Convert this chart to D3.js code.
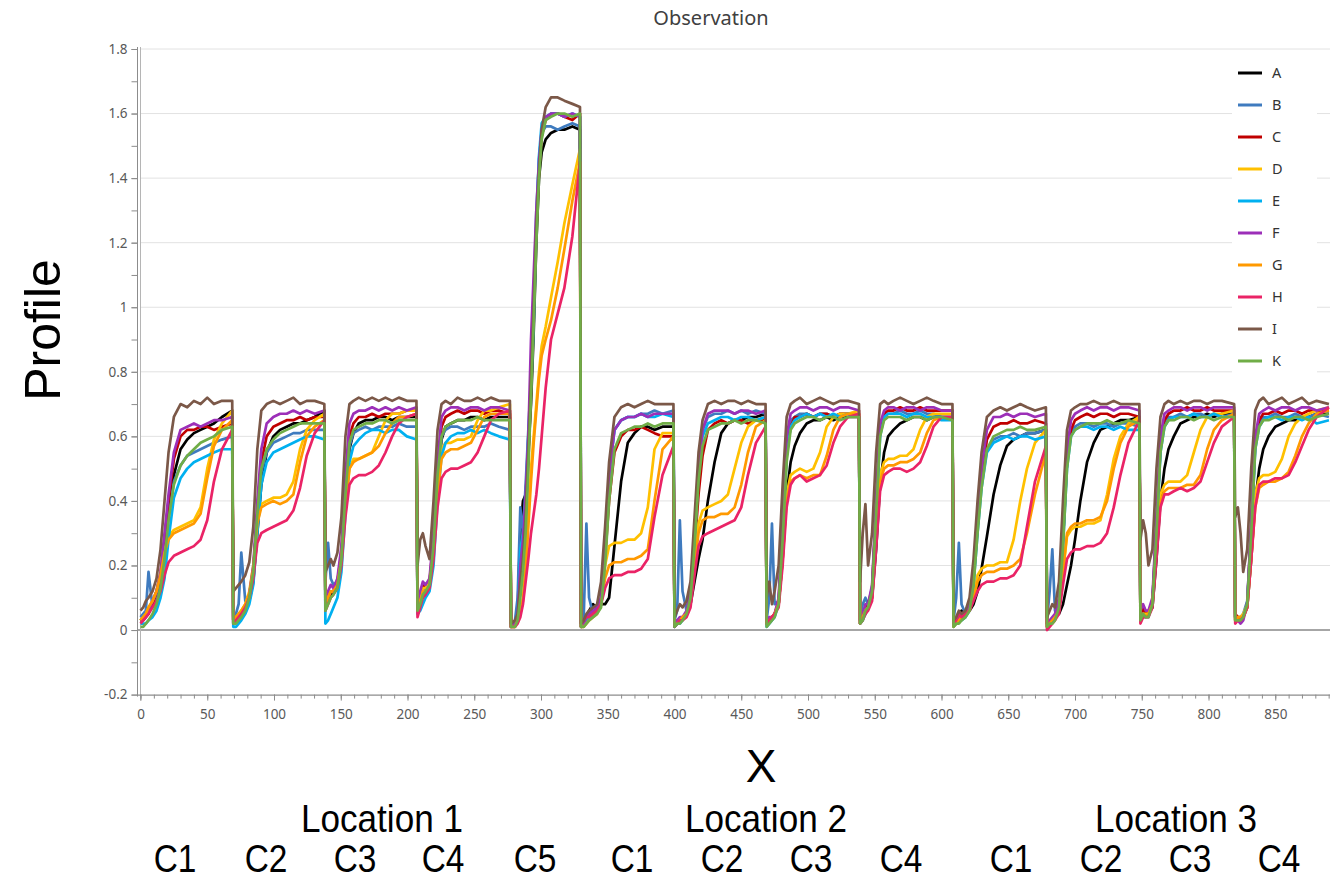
<!DOCTYPE html>
<html>
<head>
<meta charset="utf-8">
<script src="https://cdn.jsdelivr.net/npm/d3@7"></script>
<style>
  body { margin: 0; background: #fff; }
  svg { display: block; }
</style>
</head>
<body>
<svg id="chart" width="1342" height="879"></svg>
<script>
// ---- data ------------------------------------------------------------
// X positions where each cycle starts (last entry = end of the record)
const segmentBounds = [0, 69.5, 138.5, 207.5, 277.5, 330, 400, 469, 539, 609, 679, 749, 820, 891];
// sample positions inside a cycle, measured from its start
const cycleOffsets = [0, 2, 4, 6, 9, 12, 15, 18, 21, 25, 30, 35, 40, 45, 50, 55, 61];
// the short fifth cycle of location 1 is sampled more densely
const c5Offsets = [0, 3, 5, 7, 9, 11, 13, 15, 17, 19, 21, 23, 26, 30, 35, 40, 46];

const seriesNames = ["A", "B", "C", "D", "E", "F", "G", "H", "I", "K"];
const seriesColors = ["#000000", "#3f7bbf", "#c00000", "#ffc000", "#00b0f0",
                      "#9c2fb8", "#ff9900", "#ea2366", "#7b5848", "#70ad47"];

// one row per cycle; the last value of each row sits just before the drop
const seriesA = [
  [.03,.04,.05,.06,.08,.11,.16,.25,.36,.48,.56,.59,.61,.62,.63,.64,.66,.68],
  [.02,.03,.04,.05,.06,.09,.15,.30,.45,.55,.60,.62,.63,.64,.64,.65,.66,.68],
  [.08,.10,.11,.12,.14,.22,.40,.56,.61,.64,.65,.65,.66,.66,.65,.66,.66,.66],
  [.06,.09,.12,.12,.14,.26,.46,.59,.63,.64,.65,.65,.66,.66,.65,.66,.66,.66],
  [.01,.02,.06,.30,.40,.42,.55,.70,.92,1.20,1.40,1.48,1.52,1.54,1.55,1.55,1.56,1.55],
  [.01,.03,.04,.06,.08,.07,.08,.08,.10,.26,.46,.58,.61,.63,.63,.62,.63,.63],
  [.01,.02,.03,.04,.05,.08,.15,.22,.28,.40,.52,.61,.64,.65,.65,.66,.66,.67],
  [.02,.03,.04,.05,.08,.22,.42,.52,.57,.61,.64,.65,.65,.66,.65,.66,.66,.66],
  [.02,.04,.05,.07,.10,.25,.45,.55,.60,.62,.64,.65,.66,.66,.65,.66,.66,.66],
  [.02,.03,.05,.06,.05,.06,.08,.12,.19,.29,.42,.51,.57,.59,.60,.61,.61,.62],
  [.02,.02,.03,.04,.05,.08,.14,.20,.28,.40,.52,.58,.62,.63,.64,.65,.65,.66],
  [.04,.06,.05,.05,.07,.22,.40,.50,.56,.60,.64,.65,.66,.66,.67,.66,.67,.67],
  [.04,.04,.03,.04,.07,.22,.40,.50,.56,.60,.63,.64,.65,.65,.66,.66,.67,.67]
];
const seriesB = [
  [.04,.05,.06,.18,.07,.10,.14,.23,.35,.46,.51,.54,.55,.56,.57,.58,.59,.60],
  [.04,.05,.08,.24,.09,.11,.19,.36,.49,.55,.58,.59,.60,.61,.61,.62,.62,.62],
  [.15,.27,.16,.14,.15,.23,.42,.57,.61,.62,.63,.62,.63,.63,.63,.64,.63,.63],
  [.06,.09,.12,.13,.15,.26,.47,.60,.62,.63,.63,.62,.63,.63,.63,.64,.63,.62],
  [.02,.03,.10,.38,.30,.45,.62,.78,1.02,1.30,1.46,1.54,1.56,1.56,1.55,1.56,1.57,1.56],
  [.02,.04,.33,.10,.05,.06,.10,.26,.48,.62,.65,.66,.66,.67,.67,.68,.67,.68],
  [.03,.06,.34,.12,.06,.12,.30,.50,.62,.66,.67,.67,.68,.67,.68,.67,.68,.67],
  [.03,.10,.33,.08,.09,.30,.56,.65,.66,.67,.67,.66,.67,.67,.66,.67,.67,.66],
  [.03,.08,.10,.08,.12,.38,.62,.66,.67,.67,.68,.67,.67,.68,.67,.67,.66,.66],
  [.03,.10,.27,.08,.05,.07,.15,.32,.46,.56,.59,.60,.60,.61,.60,.61,.61,.62],
  [.03,.12,.25,.06,.08,.28,.52,.61,.63,.64,.64,.63,.64,.64,.63,.64,.64,.63],
  [.04,.06,.05,.05,.09,.32,.56,.64,.66,.66,.67,.66,.67,.67,.66,.67,.66,.67],
  [.04,.04,.04,.05,.09,.32,.57,.64,.66,.66,.67,.66,.66,.67,.66,.66,.67,.66]
];
const seriesC = [
  [.03,.03,.04,.05,.08,.12,.17,.28,.40,.53,.60,.62,.62,.63,.63,.62,.63,.64],
  [.03,.03,.04,.05,.07,.10,.18,.36,.52,.60,.63,.64,.65,.65,.66,.65,.66,.66],
  [.08,.10,.12,.12,.15,.24,.44,.60,.64,.66,.66,.67,.66,.67,.67,.67,.68,.68],
  [.07,.10,.14,.13,.15,.28,.50,.63,.66,.67,.68,.67,.68,.68,.67,.68,.68,.67],
  [.01,.02,.04,.12,.20,.32,.52,.75,.98,1.24,1.42,1.53,1.58,1.60,1.60,1.59,1.58,1.60],
  [.01,.02,.03,.05,.06,.07,.10,.22,.40,.55,.60,.62,.62,.63,.62,.61,.60,.60],
  [.02,.03,.03,.04,.05,.10,.25,.42,.54,.62,.64,.65,.64,.65,.65,.64,.65,.65],
  [.02,.03,.04,.05,.09,.30,.55,.63,.66,.66,.67,.66,.67,.67,.66,.67,.67,.66],
  [.03,.04,.07,.08,.13,.38,.62,.67,.68,.68,.69,.68,.68,.69,.68,.68,.68,.68],
  [.02,.03,.03,.04,.05,.07,.16,.32,.47,.59,.63,.64,.64,.65,.64,.64,.65,.64],
  [.02,.03,.03,.04,.08,.28,.52,.62,.65,.66,.67,.66,.67,.67,.66,.67,.67,.66],
  [.05,.07,.05,.05,.09,.32,.57,.65,.67,.68,.68,.69,.68,.68,.69,.68,.68,.68],
  [.05,.04,.03,.04,.08,.32,.58,.65,.67,.67,.68,.67,.68,.68,.67,.68,.68,.68]
];
const seriesD = [
  [.03,.04,.05,.07,.09,.12,.18,.25,.29,.31,.32,.33,.34,.38,.50,.59,.64,.68],
  [.03,.04,.05,.06,.08,.12,.20,.34,.39,.40,.41,.41,.42,.46,.56,.62,.65,.67],
  [.08,.10,.12,.12,.14,.22,.38,.50,.53,.53,.54,.55,.60,.65,.67,.67,.68,.68],
  [.06,.10,.13,.13,.15,.25,.44,.56,.58,.58,.59,.59,.60,.65,.68,.68,.69,.70],
  [.01,.01,.03,.06,.10,.20,.35,.50,.60,.70,.80,.88,.94,1.03,1.14,1.26,1.38,1.49],
  [.01,.02,.03,.04,.05,.06,.10,.20,.26,.27,.27,.28,.28,.30,.38,.56,.61,.61],
  [.02,.03,.03,.04,.05,.09,.22,.33,.37,.38,.39,.40,.42,.50,.58,.63,.65,.66],
  [.02,.03,.04,.05,.08,.24,.42,.48,.49,.50,.49,.50,.55,.63,.66,.67,.67,.68],
  [.02,.04,.06,.07,.11,.30,.48,.52,.53,.53,.54,.54,.56,.62,.66,.67,.67,.67],
  [.02,.02,.03,.04,.05,.06,.11,.17,.19,.20,.20,.21,.21,.28,.40,.50,.58,.62],
  [.01,.02,.03,.04,.06,.18,.29,.31,.32,.32,.33,.33,.34,.42,.53,.60,.64,.66],
  [.03,.05,.05,.05,.08,.26,.42,.45,.46,.46,.46,.48,.55,.62,.66,.67,.67,.68],
  [.03,.04,.04,.05,.08,.25,.42,.47,.48,.48,.49,.53,.60,.64,.66,.67,.68,.69]
];
const seriesE = [
  [.02,.02,.02,.03,.04,.06,.10,.16,.28,.41,.47,.50,.52,.53,.54,.55,.56,.56],
  [.01,.01,.02,.03,.05,.08,.14,.30,.45,.52,.55,.56,.57,.58,.59,.60,.60,.59],
  [.02,.03,.05,.07,.10,.18,.36,.52,.57,.59,.61,.62,.62,.61,.62,.62,.60,.59],
  [.05,.06,.08,.10,.12,.20,.40,.54,.58,.60,.61,.61,.62,.61,.62,.61,.60,.59],
  [.01,.02,.05,.25,.30,.40,.60,.75,.95,1.25,1.47,1.57,1.59,1.60,1.60,1.59,1.60,1.59],
  [.01,.02,.03,.04,.05,.06,.10,.26,.48,.62,.65,.66,.66,.67,.66,.66,.67,.66],
  [.01,.02,.02,.03,.05,.11,.28,.48,.60,.64,.65,.66,.66,.65,.66,.66,.65,.66],
  [.01,.02,.03,.04,.08,.28,.54,.63,.65,.66,.67,.66,.67,.66,.67,.66,.67,.66],
  [.02,.03,.05,.07,.11,.35,.60,.66,.67,.67,.67,.66,.67,.67,.66,.66,.65,.65],
  [.01,.02,.03,.03,.04,.06,.14,.30,.44,.55,.58,.59,.60,.59,.60,.60,.59,.60],
  [.01,.02,.03,.04,.07,.26,.50,.60,.62,.63,.63,.62,.63,.63,.62,.63,.62,.62],
  [.03,.04,.04,.04,.08,.30,.55,.63,.65,.66,.66,.66,.67,.66,.66,.67,.66,.66],
  [.03,.03,.03,.04,.08,.30,.56,.63,.65,.66,.66,.65,.66,.66,.65,.66,.64,.65]
];
const seriesF = [
  [.03,.03,.04,.06,.09,.12,.18,.30,.42,.55,.62,.63,.64,.63,.64,.65,.65,.66],
  [.03,.03,.04,.05,.07,.11,.20,.40,.56,.64,.66,.67,.67,.68,.67,.68,.67,.68],
  [.10,.12,.14,.13,.16,.26,.48,.64,.67,.68,.68,.69,.68,.69,.68,.69,.68,.69],
  [.08,.12,.15,.14,.16,.30,.52,.66,.68,.69,.69,.68,.69,.69,.68,.69,.69,.68],
  [.01,.02,.05,.20,.28,.42,.60,.90,1.10,1.30,1.45,1.55,1.59,1.60,1.60,1.59,1.60,1.59],
  [.01,.02,.04,.05,.06,.07,.10,.25,.48,.62,.65,.66,.66,.67,.66,.67,.67,.67],
  [.02,.03,.04,.04,.06,.12,.30,.50,.62,.67,.68,.68,.68,.67,.68,.68,.67,.68],
  [.02,.04,.04,.05,.10,.35,.60,.67,.68,.69,.69,.68,.69,.69,.68,.69,.69,.68],
  [.03,.05,.08,.08,.14,.40,.64,.68,.69,.69,.68,.69,.69,.68,.69,.69,.68,.68],
  [.02,.03,.04,.04,.05,.08,.18,.35,.50,.62,.66,.66,.67,.66,.67,.67,.66,.67],
  [.02,.03,.04,.05,.10,.32,.56,.65,.67,.68,.69,.68,.69,.69,.68,.69,.69,.68],
  [.06,.08,.06,.06,.10,.35,.60,.67,.68,.69,.69,.68,.69,.69,.68,.69,.69,.69],
  [.04,.03,.02,.03,.08,.34,.60,.67,.68,.69,.68,.69,.69,.68,.69,.69,.68,.69]
];
const seriesG = [
  [.03,.04,.05,.07,.09,.12,.17,.24,.28,.30,.31,.32,.33,.36,.47,.57,.62,.65],
  [.03,.04,.05,.06,.08,.11,.19,.33,.38,.39,.40,.39,.40,.42,.52,.60,.63,.65],
  [.08,.10,.12,.12,.14,.22,.38,.50,.52,.53,.54,.55,.57,.61,.64,.66,.66,.67],
  [.06,.09,.12,.12,.14,.24,.42,.53,.55,.56,.56,.57,.58,.62,.66,.67,.67,.67],
  [.01,.01,.03,.05,.09,.18,.32,.46,.58,.68,.78,.85,.90,.96,1.06,1.18,1.33,1.45],
  [.01,.01,.02,.03,.04,.05,.08,.16,.20,.21,.21,.22,.22,.23,.25,.40,.56,.60],
  [.02,.02,.03,.04,.05,.09,.20,.30,.34,.35,.35,.36,.36,.38,.45,.55,.63,.65],
  [.02,.03,.04,.05,.08,.22,.40,.46,.47,.48,.47,.48,.48,.54,.62,.66,.67,.67],
  [.02,.04,.06,.07,.10,.28,.46,.50,.51,.51,.52,.52,.53,.55,.61,.65,.66,.66],
  [.01,.02,.03,.04,.05,.06,.10,.15,.17,.18,.18,.19,.19,.20,.22,.30,.42,.55],
  [.01,.02,.03,.04,.06,.18,.30,.32,.33,.33,.34,.34,.35,.40,.50,.58,.63,.65],
  [.03,.05,.04,.05,.08,.25,.40,.43,.44,.44,.44,.45,.45,.48,.56,.62,.65,.67],
  [.03,.04,.04,.04,.07,.22,.38,.44,.45,.46,.46,.47,.49,.54,.60,.64,.67,.68]
];
const seriesH = [
  [.02,.03,.04,.05,.07,.09,.12,.17,.21,.23,.24,.25,.26,.28,.34,.46,.56,.62],
  [.02,.03,.04,.05,.07,.10,.16,.27,.30,.31,.32,.33,.34,.37,.44,.54,.61,.65],
  [.06,.08,.10,.11,.13,.20,.35,.45,.47,.48,.48,.49,.51,.55,.60,.64,.66,.67],
  [.04,.07,.10,.11,.13,.22,.38,.47,.49,.50,.50,.51,.52,.55,.60,.65,.67,.68],
  [.01,.01,.02,.04,.08,.15,.22,.30,.36,.42,.50,.60,.75,.90,.98,1.06,1.22,1.45],
  [.02,.03,.04,.04,.05,.06,.08,.13,.16,.17,.17,.18,.18,.19,.22,.35,.48,.57],
  [.01,.02,.03,.03,.04,.07,.17,.26,.29,.30,.31,.32,.33,.34,.38,.48,.58,.63],
  [.02,.03,.04,.05,.07,.20,.38,.45,.47,.48,.46,.47,.48,.51,.58,.63,.66,.67],
  [.02,.03,.05,.06,.09,.25,.43,.48,.49,.50,.50,.49,.50,.52,.57,.63,.66,.66],
  [.02,.03,.05,.04,.05,.06,.09,.12,.14,.15,.15,.16,.16,.17,.20,.32,.46,.57],
  [.00,.01,.02,.03,.05,.14,.22,.24,.25,.25,.26,.26,.27,.30,.38,.48,.58,.65],
  [.02,.04,.04,.04,.07,.22,.38,.42,.42,.43,.44,.43,.44,.46,.52,.58,.63,.66],
  [.02,.03,.03,.04,.07,.22,.38,.45,.46,.46,.47,.47,.48,.52,.57,.62,.66,.69]
];
const seriesI = [
  [.06,.07,.09,.10,.12,.16,.25,.40,.55,.66,.70,.69,.71,.70,.72,.70,.71,.71],
  [.12,.13,.14,.15,.17,.21,.32,.56,.68,.70,.71,.70,.71,.72,.70,.71,.71,.70],
  [.18,.20,.22,.20,.24,.35,.60,.70,.71,.72,.71,.72,.71,.72,.71,.72,.71,.71],
  [.20,.28,.30,.26,.22,.40,.62,.70,.71,.70,.72,.71,.71,.72,.71,.72,.71,.71],
  [.02,.03,.05,.15,.22,.35,.55,.78,1.00,1.25,1.42,1.55,1.62,1.65,1.65,1.64,1.63,1.62],
  [.02,.03,.05,.06,.07,.08,.15,.32,.52,.66,.69,.70,.69,.70,.71,.70,.70,.70],
  [.04,.06,.08,.07,.09,.15,.35,.55,.65,.70,.71,.70,.71,.71,.70,.71,.70,.70],
  [.10,.15,.08,.12,.20,.45,.66,.70,.71,.72,.70,.71,.72,.71,.70,.71,.71,.70],
  [.15,.30,.39,.20,.30,.55,.70,.71,.70,.71,.72,.71,.70,.71,.72,.71,.70,.70],
  [.03,.04,.06,.05,.06,.10,.22,.40,.55,.66,.68,.69,.68,.69,.70,.69,.68,.69],
  [.04,.06,.08,.07,.15,.40,.62,.68,.69,.70,.70,.71,.70,.70,.71,.70,.70,.70],
  [.28,.34,.30,.20,.25,.50,.66,.70,.71,.70,.71,.70,.71,.71,.70,.71,.71,.70],
  [.35,.38,.30,.18,.25,.50,.68,.71,.72,.70,.71,.72,.70,.71,.72,.70,.71,.70]
];
const seriesK = [
  [.01,.01,.02,.03,.05,.08,.13,.22,.34,.45,.51,.54,.56,.58,.59,.60,.62,.63],
  [.02,.02,.03,.04,.06,.10,.18,.36,.50,.56,.59,.61,.62,.63,.64,.64,.64,.64],
  [.06,.08,.10,.11,.13,.22,.42,.58,.62,.63,.64,.64,.65,.65,.64,.65,.65,.65],
  [.06,.08,.11,.12,.14,.26,.48,.60,.63,.64,.65,.65,.65,.66,.65,.65,.65,.65],
  [.01,.01,.03,.10,.18,.30,.50,.72,.95,1.20,1.40,1.52,1.58,1.59,1.60,1.60,1.59,1.60],
  [.01,.01,.02,.03,.04,.05,.07,.20,.40,.56,.61,.62,.63,.63,.64,.63,.64,.64],
  [.01,.02,.02,.03,.05,.10,.26,.46,.57,.62,.63,.64,.64,.65,.64,.65,.65,.64],
  [.01,.02,.03,.04,.08,.28,.52,.62,.64,.65,.66,.66,.65,.66,.66,.65,.66,.66],
  [.02,.03,.06,.07,.12,.36,.60,.65,.66,.66,.66,.65,.66,.66,.65,.66,.66,.65],
  [.01,.02,.02,.03,.04,.06,.14,.30,.44,.56,.60,.61,.62,.62,.63,.62,.62,.63],
  [.01,.02,.02,.03,.07,.26,.50,.60,.62,.63,.64,.64,.64,.65,.64,.64,.65,.64],
  [.03,.05,.04,.04,.08,.30,.55,.63,.65,.65,.66,.66,.65,.66,.66,.65,.66,.66],
  [.03,.03,.03,.04,.08,.30,.56,.63,.65,.65,.66,.66,.65,.66,.66,.65,.66,.67]
];
const seriesValues = [seriesA, seriesB, seriesC, seriesD, seriesE, seriesF, seriesG, seriesH, seriesI, seriesK];

// axis ticks and annotation text
const xTickValues = [0, 50, 100, 150, 200, 250, 300, 350, 400, 450, 500, 550, 600, 650, 700, 750, 800, 850];
const yTickValues = [-0.2, 0, 0.2, 0.4, 0.6, 0.8, 1, 1.2, 1.4, 1.6, 1.8];
const yTickLabels = ["-0.2", "0", "0.2", "0.4", "0.6", "0.8", "1", "1.2", "1.4", "1.6", "1.8"];
const locationLabels = ["Location 1", "Location 2", "Location 3"];
const cycleLabels = ["C1", "C2", "C3", "C4", "C5", "C1", "C2", "C3", "C4", "C1", "C2", "C3", "C4"];

// ---- layout ----------------------------------------------------------
const plot = { left: 140.5, right: 1330, top: 49, bottom: 694.6 };
const locationLabelCx = [382, 766, 1176];
const cycleLabelCx = [175, 266, 355, 443, 535, 632, 722, 811, 901, 1011, 1101, 1190, 1279];

// ---- build the sample grid -------------------------------------------
const xSamples = [];
segmentBounds.slice(0, -1).forEach((start, i) => {
  const offs = i === 4 ? c5Offsets : cycleOffsets;
  offs.forEach(o => xSamples.push(start + o));
  xSamples.push(segmentBounds[i + 1] - 0.8);
});

const series = seriesNames.map((name, i) => ({
  name,
  color: seriesColors[i],
  points: seriesValues[i].flat().map((v, j) => [xSamples[j], v])
}));

// ---- scales ----------------------------------------------------------
const x = d3.scaleLinear().domain([0, 891]).range([plot.left, plot.right]);
const y = d3.scaleLinear().domain([-0.2, 1.8]).range([plot.bottom, plot.top]);

const svg = d3.select("#chart");
const tickFont = "'Segoe UI', 'Noto Sans', 'DejaVu Sans', sans-serif";

// horizontal grid
svg.append("g").selectAll("line")
  .data(yTickValues.filter(v => v > 0))
  .join("line")
  .attr("x1", plot.left).attr("x2", plot.right)
  .attr("y1", d => y(d)).attr("y2", d => y(d))
  .attr("stroke", "#e2e2e2").attr("stroke-width", 1);

// zero line
svg.append("line")
  .attr("x1", plot.left - 3).attr("x2", plot.right)
  .attr("y1", y(0)).attr("y2", y(0))
  .attr("stroke", "#a6a6a6").attr("stroke-width", 2);

// y axis (major + minor ticks)
const yAxisX = plot.left - 3;
const yMinor = d3.range(-0.2, 1.81, 0.1).map(v => +v.toFixed(1));
svg.append("g")
  .attr("transform", `translate(${yAxisX},0)`)
  .call(d3.axisLeft(y).tickValues(yMinor).tickSize(6).tickFormat(""))
  .call(g => g.select(".domain").remove())
  .call(g => g.selectAll("line").attr("stroke", "#8c8c8c"));
svg.append("g")
  .attr("transform", `translate(${yAxisX},0)`)
  .call(d3.axisLeft(y).tickValues(yTickValues).tickSize(6).tickPadding(4)
        .tickFormat((d, i) => yTickLabels[i]))
  .call(g => g.select(".domain").remove())
  .call(g => g.selectAll("line").attr("stroke", "#8c8c8c"))
  .call(g => g.selectAll("text").attr("fill", "#595959")
        .style("font-family", tickFont).style("font-size", "13.5px"));
svg.append("line")
  .attr("x1", yAxisX).attr("x2", yAxisX)
  .attr("y1", plot.top - 2).attr("y2", plot.bottom + 2)
  .attr("stroke", "#8c8c8c").attr("stroke-width", 1);
svg.append("line")
  .attr("x1", plot.left).attr("x2", plot.left)
  .attr("y1", plot.top - 2).attr("y2", plot.bottom + 6)
  .attr("stroke", "#b5b5b5").attr("stroke-width", 1);

// x axis (major + minor ticks)
const xMinor = d3.range(0, 891, 10);
svg.append("g")
  .attr("transform", `translate(0,${plot.bottom})`)
  .call(d3.axisBottom(x).tickValues(xMinor).tickSize(4).tickFormat(""))
  .call(g => g.select(".domain").remove())
  .call(g => g.selectAll("line").attr("stroke", "#8c8c8c"));
svg.append("g")
  .attr("transform", `translate(0,${plot.bottom})`)
  .call(d3.axisBottom(x).tickValues(xTickValues).tickSize(6).tickPadding(9))
  .call(g => g.select(".domain").remove())
  .call(g => g.selectAll("line").attr("stroke", "#8c8c8c"))
  .call(g => g.selectAll("text").attr("fill", "#595959")
        .style("font-family", tickFont).style("font-size", "13.5px"));
svg.append("line")
  .attr("x1", yAxisX).attr("x2", plot.right)
  .attr("y1", plot.bottom + 0.5).attr("y2", plot.bottom + 0.5)
  .attr("stroke", "#8c8c8c").attr("stroke-width", 1.2);

// series lines
const line = d3.line().x(d => x(d[0])).y(d => y(d[1]));
svg.append("g")
  .selectAll("path")
  .data(series)
  .join("path")
  .attr("d", d => line(d.points))
  .attr("fill", "none")
  .attr("stroke", d => d.color)
  .attr("stroke-width", 2.7)
  .attr("stroke-linejoin", "round");

// legend
const legend = svg.append("g");
legend.append("rect")
  .attr("x", 1232).attr("y", 58).attr("width", 85).attr("height", 318)
  .attr("fill", "#fff");
const legendItem = legend.selectAll("g.item")
  .data(series)
  .join("g")
  .attr("class", "item")
  .attr("transform", (d, i) => `translate(1238,${73 + i * 32})`);
legendItem.append("line")
  .attr("x1", 0).attr("x2", 24)
  .attr("stroke", d => d.color).attr("stroke-width", 3);
legendItem.append("text")
  .attr("x", 34).attr("dy", "0.35em")
  .attr("fill", "#333")
  .style("font-family", tickFont).style("font-size", "14.5px")
  .text(d => d.name);

// titles
svg.append("text")
  .attr("x", 711).attr("y", 25)
  .attr("text-anchor", "middle")
  .attr("fill", "#404040")
  .style("font-family", tickFont).style("font-size", "20px")
  .text("Observation");

const bigFont = "Arial, 'Liberation Sans', sans-serif";
svg.append("text")
  .attr("transform", "translate(60,330) rotate(-90)")
  .attr("text-anchor", "middle")
  .style("font-family", bigFont).style("font-size", "50px")
  .text("Profile");

svg.append("text")
  .attr("x", 761).attr("y", 782)
  .attr("text-anchor", "middle")
  .style("font-family", bigFont).style("font-size", "46px")
  .text("X");

svg.append("g").selectAll("text")
  .data(locationLabels)
  .join("text")
  .attr("transform", (d, i) => `translate(${locationLabelCx[i]},832) scale(0.9,1)`)
  .attr("text-anchor", "middle")
  .style("font-family", bigFont).style("font-size", "39px")
  .text(d => d);

svg.append("g").selectAll("text")
  .data(cycleLabels)
  .join("text")
  .attr("transform", (d, i) => `translate(${cycleLabelCx[i]},872) scale(0.88,1)`)
  .attr("text-anchor", "middle")
  .style("font-family", bigFont).style("font-size", "38px")
  .text(d => d);
</script>
</body>
</html>
